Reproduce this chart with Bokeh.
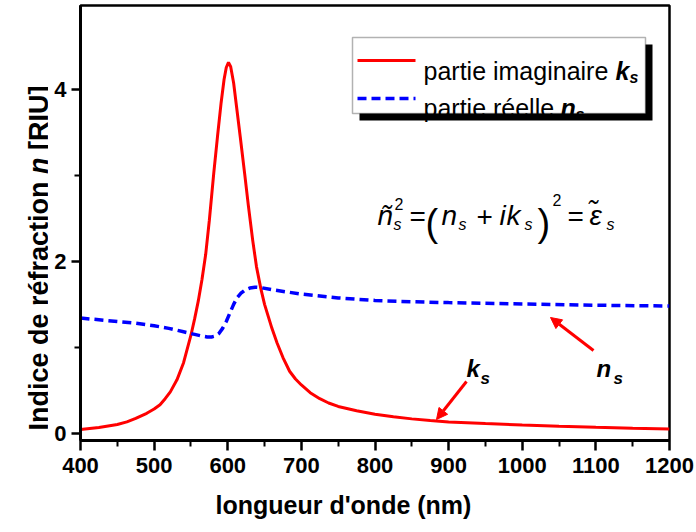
import math
from bokeh.plotting import figure
from bokeh.layouts import row
from bokeh.models import (Range1d, FixedTicker, Label, Arrow, NormalHead, BoxAnnotation,
                          ColumnDataSource, Title)
from bokeh.embed import file_html
from bokeh.resources import INLINE

# ---------------- data ----------------
wavelength_k = [400, 425, 450, 463, 475, 490, 500, 508, 515, 522, 531, 540, 550, 555, 560, 565,
                570, 575, 581, 586, 591, 595, 598, 601, 604, 608, 612, 617, 623, 628, 634, 639,
                645, 650, 655, 660, 667, 675, 684, 692, 700, 712, 725, 737, 750, 775, 800, 825,
                850, 875, 900, 950, 1000, 1050, 1100, 1150, 1200]
k_values = [0.04, 0.065, 0.10, 0.13, 0.17, 0.23, 0.28, 0.33, 0.40, 0.48, 0.62, 0.82, 1.14, 1.33, 1.54, 1.79,
            2.08, 2.48, 3.03, 3.45, 3.85, 4.12, 4.26, 4.32, 4.27, 4.08, 3.80, 3.45, 3.02, 2.65, 2.24, 1.94,
            1.68, 1.50, 1.36, 1.22, 1.05, 0.88, 0.72, 0.63, 0.56, 0.47, 0.40, 0.35, 0.31, 0.26, 0.22, 0.19,
            0.165, 0.145, 0.13, 0.11, 0.094, 0.08, 0.068, 0.057, 0.047]

wavelength_n = [400, 425, 450, 475, 500, 520, 540, 555, 565, 572, 578, 583, 588, 593, 598, 603,
                608, 613, 618, 624, 630, 637, 645, 660, 680, 700, 750, 800, 850, 900, 1000, 1100, 1200]
n_values = [1.34, 1.32, 1.30, 1.28, 1.25, 1.22, 1.18, 1.15, 1.13, 1.12, 1.12, 1.13, 1.16, 1.22, 1.30, 1.40,
            1.50, 1.58, 1.63, 1.67, 1.69, 1.70, 1.695, 1.67, 1.645, 1.62, 1.575, 1.545, 1.53, 1.52, 1.505,
            1.49, 1.48]

x_ticks = [400, 500, 600, 700, 800, 900, 1000, 1100, 1200]
x_minor_ticks = [450, 550, 650, 750, 850, 950, 1050, 1150]
y_ticks = [0, 2, 4]
y_minor_ticks = [1, 3]

legend_k = "partie imaginaire"
legend_n = "partie réelle"
x_title = "longueur d'onde (nm)"
y_title = ["Indice de réfraction", "n", "[RIU]"]

# ---------------- layout ----------------
H = 532
YW = 48                  # width of the strip holding the y title
PW = 648                 # main figure width
BL, BR, BT, BB = 80 - YW, 27, 5, 92
FW, FH = PW - BL - BR, H - BT - BB
X0, X1 = 400, 1200
Y_MIN, Y_MAX = -0.087, 4.983
FONT = "Liberation Sans"

# page pixel -> data helpers (annotation placement only)
def X(px):
    return X0 + (px - (YW + BL)) * (X1 - X0) / FW

def Y(py):
    return Y_MAX - (py - BT) * (Y_MAX - Y_MIN) / FH

p = figure(width=PW, height=H, x_range=Range1d(X0, X1), y_range=Range1d(Y_MIN, Y_MAX),
           output_backend="svg", toolbar_location=None,
           min_border_left=BL, min_border_right=BR, min_border_top=BT, min_border_bottom=BB)
p.xgrid.visible = False
p.ygrid.visible = False
p.outline_line_color = "black"
p.outline_line_width = 2.5
p.background_fill_color = "white"
p.border_fill_color = "white"

for ax, ticks, minor in ((p.xaxis[0], x_ticks, x_minor_ticks), (p.yaxis[0], y_ticks, y_minor_ticks)):
    ax.ticker = FixedTicker(ticks=ticks, minor_ticks=minor)
    ax.axis_line_width = 3
    ax.axis_line_color = "black"
    ax.major_tick_line_width = 2.5
    ax.minor_tick_line_width = 2
    ax.major_tick_in = 0
    ax.minor_tick_in = 0
    ax.major_tick_out = 10
    ax.minor_tick_out = 6
    ax.major_label_text_font = FONT
    ax.major_label_text_font_style = "bold"
    ax.major_label_text_font_size = "22px"
    ax.major_label_text_color = "black"
p.xaxis[0].major_label_standoff = 7
p.yaxis[0].major_label_standoff = 5
p.yaxis[0].major_tick_out = 9

p.add_layout(Title(text=x_title, align="left", offset=135, text_font=FONT, text_font_size="25px",
                   text_font_style="bold", text_color="black", standoff=27), "below")

src_k = ColumnDataSource(dict(x=wavelength_k, y=k_values))
src_n = ColumnDataSource(dict(x=wavelength_n, y=n_values))
p.line("x", "y", source=src_k, line_color="#FF0000", line_width=3)
p.line("x", "y", source=src_n, line_color="#0000FF", line_width=3.5, line_dash="9 5")

def lab(fig, text, x, y, size, style="normal", align="left", angle=0.0):
    fig.add_layout(Label(x=x, y=y, text=text, text_font=FONT, text_font_size=f"{size}px",
                         text_font_style=style, text_align=align, text_baseline="alphabetic",
                         text_color="black", angle=angle))

def plab(text, px, py, size, style="normal"):
    lab(p, text, X(px), Y(py), size, style)

# legend
p.add_layout(BoxAnnotation(left=X(359), right=X(652), top=Y(44), bottom=Y(120),
                           fill_color="black", fill_alpha=1, line_alpha=0))
p.add_layout(BoxAnnotation(left=X(352), right=X(645), top=Y(37), bottom=Y(113),
                           fill_color="white", fill_alpha=1, line_color="black", line_width=1.5))
p.add_layout(Arrow(end=None, x_start=X(357), x_end=X(415), y_start=Y(60), y_end=Y(60),
                   line_color="#FF0000", line_width=3))
p.add_layout(Arrow(end=None, x_start=X(357), x_end=X(415), y_start=Y(98), y_end=Y(98),
                   line_color="#0000FF", line_width=3.5, line_dash="9 5"))
plab(legend_k, 423, 70, 25)
plab("k", 615, 70, 25, "bold italic")
plab("s", 629, 77, 16, "bold italic")
plab(legend_n, 423, 107, 25)
plab("n", 560, 107, 25, "bold italic")
plab("s", 575, 114, 16, "bold italic")

# equation
eq = [("ñ", 377, 215, 28, "italic"), ("2", 394, 203, 16, "normal"), ("s", 393, 224, 16, "italic"),
      ("=", 409, 216, 28, "normal"), ("(", 425, 222, 38, "normal"),
      ("n", 441, 215, 28, "italic"), ("s", 458, 224, 16, "italic"),
      ("+", 476, 216, 28, "normal"), ("i", 499, 215, 28, "italic"), ("k", 506, 215, 28, "italic"),
      ("s", 524, 224, 16, "italic"),
      (")", 537, 222, 38, "normal"), ("2", 552, 199, 16, "normal"),
      ("=", 567, 216, 28, "normal"), ("ε\u0303", 589, 215, 28, "italic"), ("s", 606, 224, 16, "italic")]
for t, px, py, sz, st in eq:
    plab(t, px, py, sz, st)

# annotations with arrows
plab("k", 466, 368, 24, "bold italic")
plab("s", 480, 378, 17, "bold italic")
plab("n", 596, 368, 24, "bold italic")
plab("s", 613, 378, 17, "bold italic")
head = dict(size=11, fill_color="#FF0000", line_color="#FF0000", line_width=1)
p.add_layout(Arrow(end=NormalHead(**head), x_start=X(466), y_start=Y(381), x_end=X(436), y_end=Y(419),
                   line_color="#FF0000", line_width=3))
p.add_layout(Arrow(end=NormalHead(**head), x_start=X(593), y_start=Y(350), x_end=X(550), y_end=Y(317),
                   line_color="#FF0000", line_width=3))

# y title strip (mixed bold / bold italic, rotated); frames are aligned with p by the row
yf = figure(width=YW, height=H, x_range=Range1d(0, YW), y_range=Range1d(Y_MIN, Y_MAX),
            output_backend="svg", toolbar_location=None, x_axis_type=None, y_axis_type=None,
            min_border_left=0, min_border_right=0, min_border_top=BT, min_border_bottom=BB)
yf.xgrid.visible = False
yf.ygrid.visible = False
yf.outline_line_color = None
yf.background_fill_color = "white"
yf.border_fill_color = "white"
ysize = 27
advance = [9.503, 0.611 + 0.278, 0]   # em advance of each piece incl. the following space
ypos = 430
for piece, style, adv in zip(y_title, ["bold", "bold italic", "bold"], advance):
    lab(yf, piece, 38, Y(ypos), ysize, style, angle=math.pi / 2)
    ypos -= adv * ysize

layout = row(yf, p, spacing=0)
open("out.html", "w").write(file_html(layout, INLINE))
